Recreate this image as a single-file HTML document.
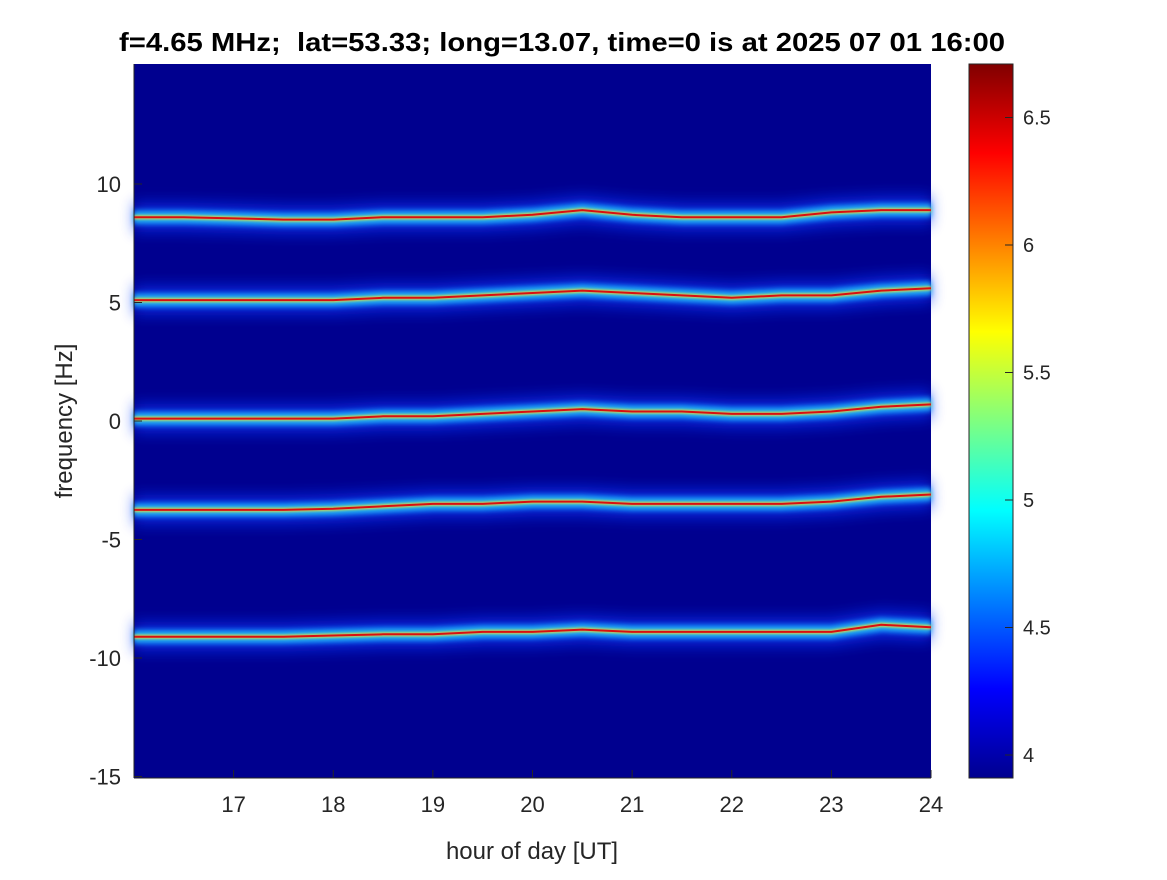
<!DOCTYPE html>
<html><head><meta charset="utf-8">
<style>
body{margin:0;background:#fff;font-family:"Liberation Sans",sans-serif;}
svg text{font-family:"Liberation Sans",sans-serif;}
</style></head>
<body>
<svg id="chart" width="1167" height="875" xmlns="http://www.w3.org/2000/svg">
<defs>
<filter id="b8" x="-10%" y="-300%" width="120%" height="700%"><feGaussianBlur stdDeviation="7"/></filter>
<filter id="b3" x="-10%" y="-200%" width="120%" height="500%"><feGaussianBlur stdDeviation="2.5"/></filter>
<filter id="b1" x="-10%" y="-200%" width="120%" height="500%"><feGaussianBlur stdDeviation="1"/></filter>
<linearGradient id="jet" x1="0" y1="1" x2="0" y2="0">
<stop offset="0" stop-color="#00008f"/>
<stop offset="0.125" stop-color="#0000ff"/>
<stop offset="0.375" stop-color="#00ffff"/>
<stop offset="0.625" stop-color="#ffff00"/>
<stop offset="0.875" stop-color="#ff0000"/>
<stop offset="1" stop-color="#800000"/>
</linearGradient>
</defs>
<text x="119" y="51" font-size="26" font-weight="bold" textLength="886" lengthAdjust="spacingAndGlyphs" xml:space="preserve">f=4.65 MHz;&#160; lat=53.33; long=13.07, time=0 is at 2025 07 01 16:00</text>
<rect x="134" y="64" width="797" height="714" fill="#00008f"/>
<g id="traces"></g>
<g id="xaxis"></g>
<g id="yaxis"></g>
<text x="532" y="859" text-anchor="middle" font-size="24" fill="#262626">hour of day [UT]</text>
<text transform="translate(72,421) rotate(-90)" text-anchor="middle" font-size="24" fill="#262626">frequency [Hz]</text>
<rect x="969" y="64" width="44" height="714" fill="url(#jet)" stroke="#262626" stroke-width="1"/>
<g id="cbaxis"></g>
</svg>
<script>
const hours=[16,16.5,17,17.5,18,18.5,19,19.5,20,20.5,21,21.5,22,22.5,23,23.5,24];
const trace1=[8.6,8.6,8.55,8.5,8.5,8.6,8.6,8.6,8.7,8.9,8.7,8.6,8.6,8.6,8.8,8.9,8.9];
const trace2=[5.1,5.1,5.1,5.1,5.1,5.2,5.2,5.3,5.4,5.5,5.4,5.3,5.2,5.3,5.3,5.5,5.6];
const trace3=[0.1,0.1,0.1,0.1,0.1,0.2,0.2,0.3,0.4,0.5,0.4,0.4,0.3,0.3,0.4,0.6,0.7];
const trace4=[-3.75,-3.75,-3.75,-3.75,-3.7,-3.6,-3.5,-3.5,-3.4,-3.4,-3.5,-3.5,-3.5,-3.5,-3.4,-3.2,-3.1];
const trace5=[-9.1,-9.1,-9.1,-9.1,-9.05,-9.0,-9.0,-8.9,-8.9,-8.8,-8.9,-8.9,-8.9,-8.9,-8.9,-8.6,-8.7];
const xTicks=[17,18,19,20,21,22,23,24];
const yTicks=[10,5,0,-5,-10,-15];
const cTicks=[6.5,6,5.5,5,4.5,4];
const NS='http://www.w3.org/2000/svg';
const X=h=>134+(h-16)*(797/8);
const Y=f=>421-f*23.7;
const C=v=>755-(v-4)*255;
function el(t,a,p){const e=document.createElementNS(NS,t);for(const k in a)e.setAttribute(k,a[k]);p.appendChild(e);return e;}
const tg=document.getElementById('traces');
[trace1,trace2,trace3,trace4,trace5].forEach((tr,i)=>{
  const d=hours.map((h,j)=>(j?'L':'M')+X(h).toFixed(1)+' '+Y(tr[j]).toFixed(1)).join(' ');
  const g=el('g',{},tg);
  
  
  el('path',{d:d,fill:'none',stroke:'#0838ff',"stroke-width":30,opacity:0.6,filter:'url(#b8)'},g);
  el('path',{d:d,fill:'none',stroke:'#1890ff',"stroke-width":16,opacity:0.7,filter:'url(#b3)'},g);
  el('path',{d:d,fill:'none',stroke:'#30e0e8',"stroke-width":8,opacity:0.8,filter:'url(#b3)'},g);
  el('path',{d:d,fill:'none',stroke:'#f0d030',"stroke-width":4,opacity:0.85,filter:'url(#b1)'},g);
  el('path',{d:d,fill:'none',stroke:'#d81010',"stroke-width":2},g);
});
const xa=document.getElementById('xaxis');
el('line',{x1:134,y1:778,x2:931,y2:778,stroke:'#262626'},xa);
xTicks.forEach(t=>{
  el('line',{x1:X(t),y1:778,x2:X(t),y2:770,stroke:'#262626'},xa);
  const tx=el('text',{x:X(t),y:812,"text-anchor":"middle","font-size":22,fill:'#262626'},xa);tx.textContent=t;
  
  
});
const ya=document.getElementById('yaxis');
el('line',{x1:134,y1:64,x2:134,y2:778,stroke:'#262626'},ya);
yTicks.forEach(t=>{
  el('line',{x1:134,y1:Y(t),x2:142,y2:Y(t),stroke:'#262626'},ya);
  const tx=el('text',{x:121,y:Y(t)+8,"text-anchor":"end","font-size":22,fill:'#262626'},ya);tx.textContent=t;
  
  
});
const ca=document.getElementById('cbaxis');
cTicks.forEach(t=>{
  el('line',{x1:1005,y1:C(t),x2:1013,y2:C(t),stroke:'#262626'},ca);
  const tx=el('text',{x:1023,y:C(t)+7,"font-size":20,fill:'#262626'},ca);tx.textContent=t;
  
  
});
</script>
</body></html>
